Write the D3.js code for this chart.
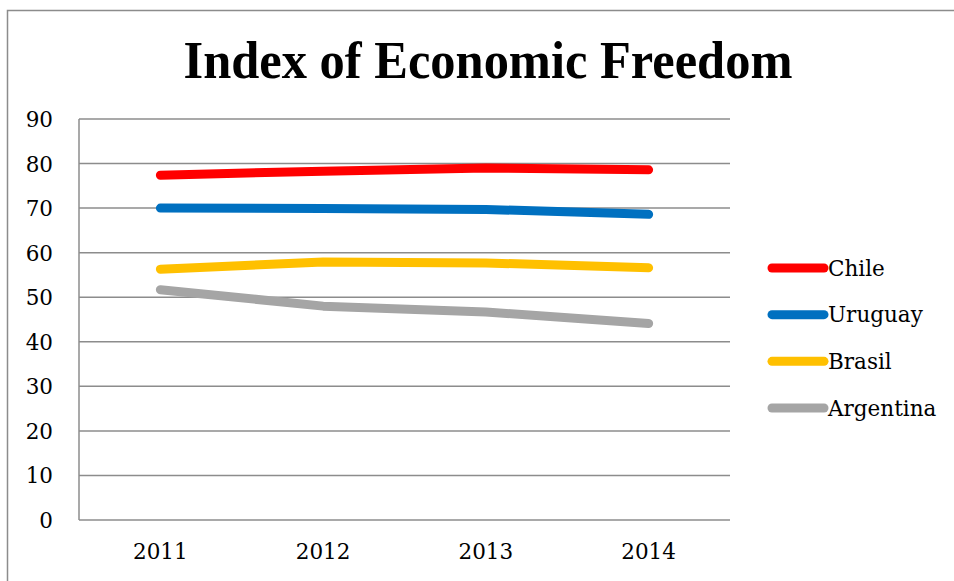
<!DOCTYPE html>
<html><head><meta charset="utf-8">
<script src="https://cdn.jsdelivr.net/npm/d3@7"></script>
<style>body{margin:0;background:#fff}svg{display:block}</style>
</head><body>
<svg id="c" width="954" height="581"></svg>
<script>
const years = ["2011","2012","2013","2014"];
const chile = [77.4, 78.3, 79.0, 78.6];
const uruguay = [70.0, 69.9, 69.7, 68.6];
const brasil = [56.3, 57.9, 57.7, 56.6];
const argentina = [51.7, 48.0, 46.7, 44.1];
const seriesNames = ["Chile","Uruguay","Brasil","Argentina"];
const seriesColors = ["#FF0000","#0070C0","#FFC000","#A5A5A5"];
const yTicks = [0,10,20,30,40,50,60,70,80,90];
const series = [chile, uruguay, brasil, argentina];

const svg = d3.select("#c");
const font = "DejaVu Serif";
const L = 79, R = 730, T = 119, B = 520;

svg.append("rect").attr("x",7.5).attr("y",10.5).attr("width",1000).attr("height",1000)
  .attr("fill","none").attr("stroke","#8c8c8c").attr("stroke-width",1.5);

svg.append("text").attr("x",488).attr("y",78).attr("text-anchor","middle")
  .attr("font-family","Liberation Serif").attr("font-weight","bold").attr("font-size",52)
  .attr("textLength",609).attr("lengthAdjust","spacingAndGlyphs")
  .text("Index of Economic Freedom");

const x = d3.scaleBand().domain(years).range([L,R]);
const y = d3.scaleLinear().domain([0,90]).range([B,T]);

const grid = svg.append("g");
grid.selectAll("line").data(yTicks).join("line")
  .attr("x1",L).attr("x2",R).attr("y1",d=>y(d)).attr("y2",d=>y(d))
  .attr("stroke","#8c8c8c").attr("stroke-width",1.5);
svg.append("line").attr("x1",L).attr("x2",L).attr("y1",T).attr("y2",B)
  .attr("stroke","#8c8c8c").attr("stroke-width",1.5);

const yAxis = svg.append("g").attr("transform",`translate(${L},0)`)
  .call(d3.axisLeft(y).tickValues(yTicks).tickSize(0).tickPadding(26));
yAxis.select(".domain").remove();
yAxis.selectAll("text").attr("font-family",font).attr("font-size",21.5).attr("fill","#000").attr("dy","0.35em");

const xAxis = svg.append("g").attr("transform",`translate(0,${B})`)
  .call(d3.axisBottom(x).tickSize(0).tickPadding(24));
xAxis.select(".domain").remove();
xAxis.selectAll("text").attr("font-family",font).attr("font-size",21.5).attr("fill","#000");

const line = d3.line().x((d,i)=>x(years[i])+x.bandwidth()/2).y(d=>y(d));
svg.append("g").selectAll("path").data(series).join("path")
  .attr("d",line).attr("fill","none")
  .attr("stroke",(d,i)=>seriesColors[i]).attr("stroke-width",9)
  .attr("stroke-linecap","round").attr("stroke-linejoin","round");

const lg = svg.append("g");
const ly = d3.scalePoint().domain(seriesNames).range([268,408]);
seriesNames.forEach((n,i)=>{
  lg.append("line").attr("x1",772).attr("x2",824).attr("y1",ly(n)).attr("y2",ly(n))
    .attr("stroke",seriesColors[i]).attr("stroke-width",9).attr("stroke-linecap","round");
  lg.append("text").attr("x",828).attr("y",ly(n)).attr("dy","0.35em")
    .attr("font-family",font).attr("font-size",21.5).text(n);
});
</script>
</body></html>
